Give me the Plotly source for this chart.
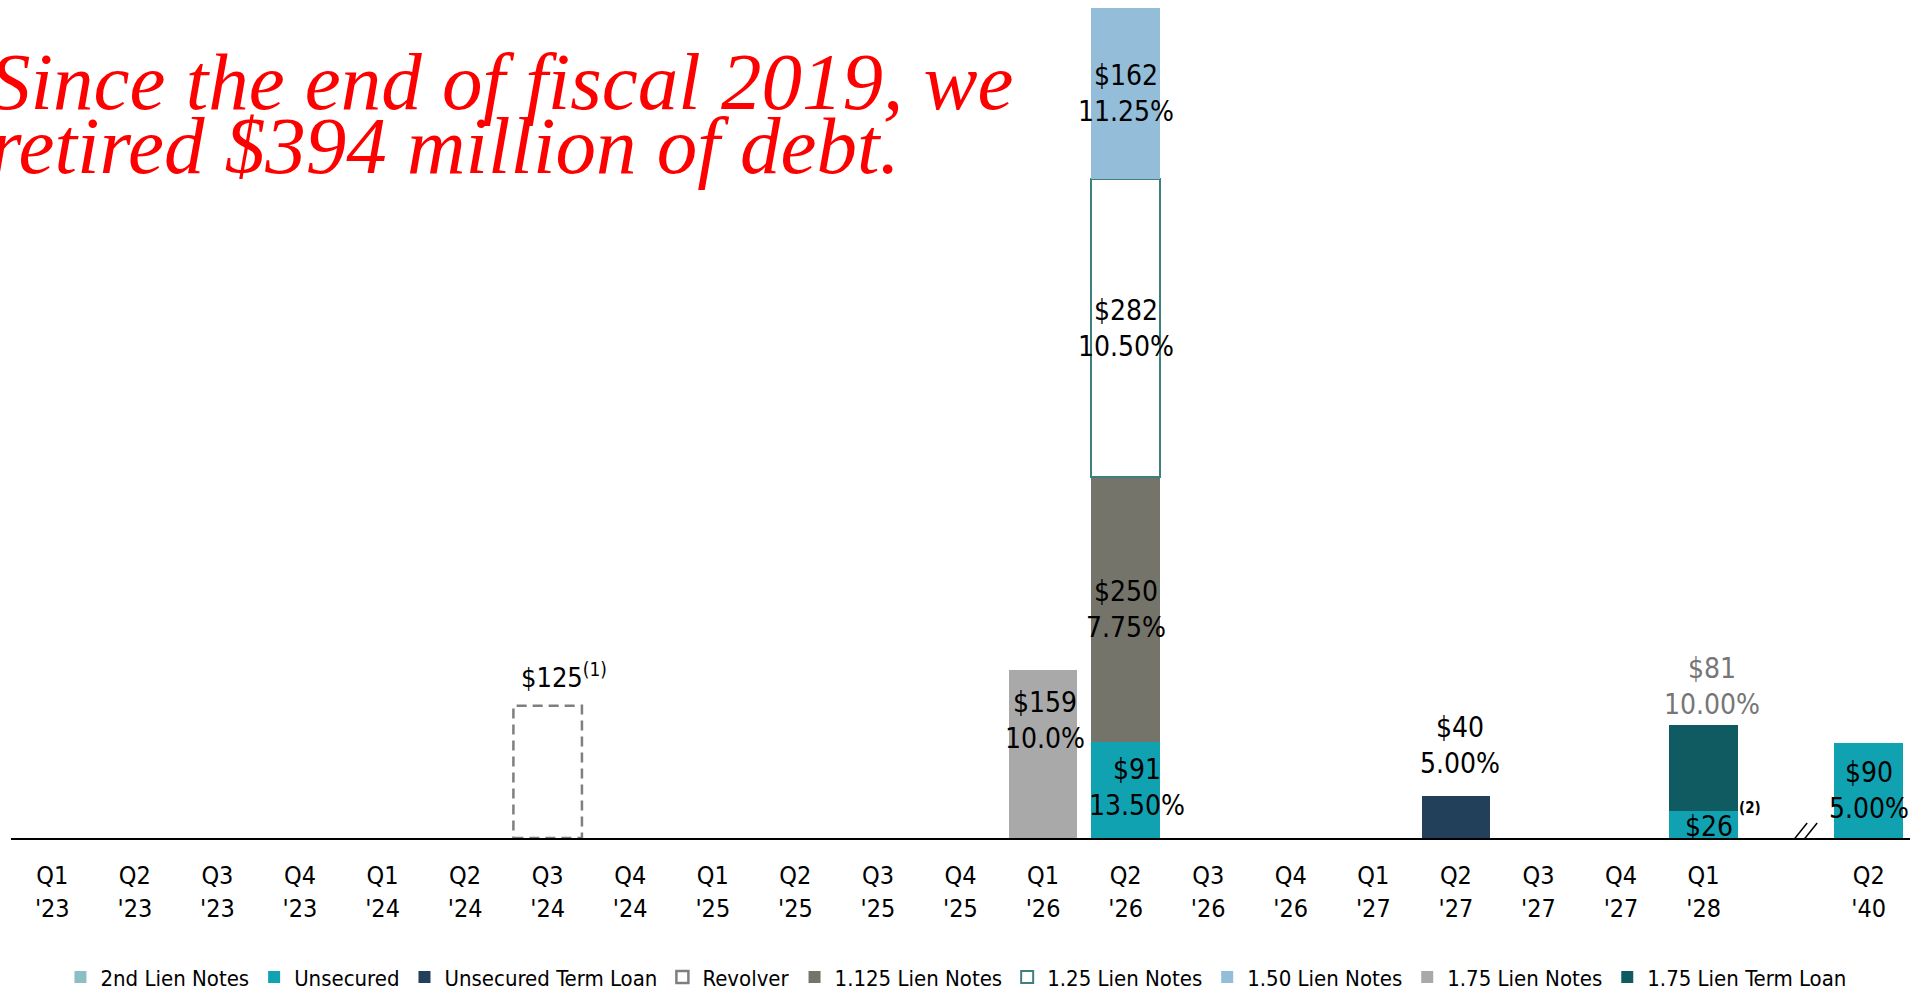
import plotly.graph_objects as go

FONT = "DejaVu Sans Condensed, DejaVu Sans, sans-serif"

# Quarterly maturity buckets shown on the axis
periods = ["Q1 '23", "Q2 '23", "Q3 '23", "Q4 '23", "Q1 '24", "Q2 '24", "Q3 '24", "Q4 '24",
           "Q1 '25", "Q2 '25", "Q3 '25", "Q4 '25", "Q1 '26", "Q2 '26", "Q3 '26", "Q4 '26",
           "Q1 '27", "Q2 '27", "Q3 '27", "Q4 '27", "Q1 '28", "Q2 '40"]

# Debt maturities ($ millions) and coupon rates by instrument
second_lien_periods = [None]
second_lien_amounts = [None]

unsecured_periods = ["Q2 '26", "Q1 '28", "Q2 '40"]
unsecured_amounts = [91, 26, 90]
unsecured_rates = ["13.50%", "", "5.00%"]

unsecured_tl_periods = ["Q2 '27"]
unsecured_tl_amounts = [40]
unsecured_tl_rates = ["5.00%"]

revolver_periods = ["Q3 '24"]
revolver_amounts = [125]

lien_1125_periods = ["Q2 '26"]
lien_1125_amounts = [250]
lien_1125_rates = ["7.75%"]

lien_125_periods = ["Q2 '26"]
lien_125_amounts = [282]
lien_125_rates = ["10.50%"]

lien_150_periods = ["Q2 '26"]
lien_150_amounts = [162]
lien_150_rates = ["11.25%"]

lien_175_periods = ["Q1 '26"]
lien_175_amounts = [159]
lien_175_rates = ["10.0%"]

lien_175_tl_periods = ["Q1 '28"]
lien_175_tl_amounts = [81]
lien_175_tl_rates = ["10.00%"]

# Axis slot of every period; an empty slot before Q2 '40 holds the axis break
slot = {p: (i if i < 21 else i + 1) for i, p in enumerate(periods)}
slot[None] = None
BREAK_SLOT = 21
BAR_W = 0.83

series = [
    # name, periods, amounts, rates, fill, outline
    ("2nd Lien Notes", second_lien_periods, second_lien_amounts, None, "#8BBFC4", None),
    ("Unsecured", unsecured_periods, unsecured_amounts, unsecured_rates, "#11A2B2", None),
    ("Unsecured Term Loan", unsecured_tl_periods, unsecured_tl_amounts, unsecured_tl_rates, "#22405A", None),
    ("1.125 Lien Notes", lien_1125_periods, lien_1125_amounts, lien_1125_rates, "#75746A", None),
    ("1.25 Lien Notes", lien_125_periods, lien_125_amounts, lien_125_rates, "#FFFFFF", "#3E807D"),
    ("1.50 Lien Notes", lien_150_periods, lien_150_amounts, lien_150_rates, "#93BDD8", None),
    ("1.75 Lien Notes", lien_175_periods, lien_175_amounts, lien_175_rates, "#A9A9A9", None),
    ("1.75 Lien Term Loan", lien_175_tl_periods, lien_175_tl_amounts, lien_175_tl_rates, "#0F5B61", None),
]

# How each value label sits relative to its bar segment
label_style = {
    ("Unsecured", "Q2 '26"): dict(mode="center", xshift=11, yshift=2),
    ("Unsecured", "Q1 '28"): dict(mode="center", xshift=5, yshift=-2),
    ("Unsecured", "Q2 '40"): dict(mode="center"),
    ("Unsecured Term Loan", "Q2 '27"): dict(mode="above", xshift=4, yshift=14),
    ("1.125 Lien Notes", "Q2 '26"): dict(mode="center"),
    ("1.25 Lien Notes", "Q2 '26"): dict(mode="center"),
    ("1.50 Lien Notes", "Q2 '26"): dict(mode="center"),
    ("1.75 Lien Notes", "Q1 '26"): dict(mode="top", xshift=2, yshift=-14),
    ("1.75 Lien Term Loan", "Q1 '28"): dict(mode="above", xshift=8, yshift=2, color="#767676"),
}

legend_rank = {"2nd Lien Notes": 1, "Unsecured": 2, "Unsecured Term Loan": 3, "Revolver": 4,
               "1.125 Lien Notes": 5, "1.25 Lien Notes": 6, "1.50 Lien Notes": 7,
               "1.75 Lien Notes": 8, "1.75 Lien Term Loan": 9}

fig = go.Figure()
stack_base = {}
annotations = []

for name, per, amt, rates, fill, outline in series:
    xs = [slot[p] for p in per]
    fig.add_trace(go.Bar(
        name=name, x=xs, y=amt, width=BAR_W,
        marker=dict(color=fill, line=dict(color=outline or fill, width=2 if outline else 0)),
        legendrank=legend_rank[name], hoverinfo="skip",
    ))
    for i, (p, v) in enumerate(zip(per, amt)):
        if v is None:
            continue
        base = stack_base.get(p, 0)
        stack_base[p] = base + v
        st = label_style.get((name, p))
        if st is None:
            continue
        text = f"${v}" + (f"<br>{rates[i]}" if rates and rates[i] else "")
        if st["mode"] == "center":
            y, yanchor = base + v / 2, "middle"
        elif st["mode"] == "top":
            y, yanchor = base + v, "top"
        else:
            y, yanchor = base + v, "bottom"
        annotations.append(dict(
            x=slot[p], y=y, xref="x", yref="y", text=text, showarrow=False,
            xanchor="center", yanchor=yanchor, align="center",
            xshift=st.get("xshift", 0), yshift=st.get("yshift", 0),
            font=dict(family=FONT, size=28, color=st.get("color", "#000000")),
        ))

# Revolver: undrawn facility shown as a dashed outline
rev_x = slot[revolver_periods[0]]
rev_v = revolver_amounts[0]
fig.add_shape(
    type="rect", xref="x", yref="y",
    x0=rev_x - BAR_W / 2, x1=rev_x + BAR_W / 2, y0=0, y1=rev_v,
    line=dict(color="#7F7F7F", width=2.5, dash="10px,6px"), fillcolor="rgba(0,0,0,0)",
    showlegend=True, name="Revolver", legendrank=legend_rank["Revolver"],
)
annotations.append(dict(
    x=rev_x, y=rev_v, xref="x", yref="y", text=f"${rev_v}<sup>(1)</sup>", showarrow=False,
    xanchor="center", yanchor="bottom", xshift=16, yshift=11,
    font=dict(family=FONT, size=27, color="#000000"),
))

# Footnote marker on the Q1 '28 unsecured piece
annotations.append(dict(
    x=slot["Q1 '28"], y=unsecured_amounts[1], xref="x", yref="y", text="<b>(2)</b>",
    showarrow=False, xanchor="center", yanchor="middle", xshift=46, yshift=3,
    font=dict(family=FONT, size=15, color="#000000"),
))

# Axis break marks between Q1 '28 and Q2 '40
for dx in (0, 10):
    fig.add_shape(
        type="line", xref="x", yref="y", xsizemode="pixel", ysizemode="pixel",
        xanchor=BREAK_SLOT, yanchor=0,
        x0=-3 + dx, x1=21 + dx, y0=-15, y1=15,
        line=dict(color="#000000", width=1.5),
    )

# Headline
for txt, ypos in (("Since the end of fiscal 2019, we", 0.902),
                  ("retired $394 million of debt.", 0.826)):
    annotations.append(dict(
        x=-0.012, y=ypos, xref="paper", yref="paper", text=txt, showarrow=False,
        xanchor="left", yanchor="middle", align="left",
        font=dict(family="Liberation Serif", size=81, color="#FF0000", style="italic"),
    ))

fig.update_layout(
    width=1917, height=990,
    margin=dict(l=11, r=7, t=0, b=152, autoexpand=False),
    barmode="stack",
    plot_bgcolor="white", paper_bgcolor="white",
    showlegend=True,
    xaxis=dict(
        range=[-0.5, 22.5],
        tickvals=[slot[p] for p in periods],
        ticktext=[p.replace(" ", "<br>") for p in periods],
        tickfont=dict(family=FONT, size=25, color="#000000"),
        showline=True, linecolor="#000000", linewidth=2,
        ticks="", showgrid=False, zeroline=False, ticklabelstandoff=14,
        automargin=False,
    ),
    yaxis=dict(range=[0, 792.6], visible=False, automargin=False),
    legend=dict(
        orientation="h", x=0.4976, xanchor="center", y=-0.166, yanchor="middle",
        font=dict(family=FONT, size=22, color="#000000"),
        itemwidth=30, traceorder="normal", bgcolor="rgba(0,0,0,0)",
    ),
    annotations=annotations,
)

fig.write_html("out.html", config={"displayModeBar": False})
